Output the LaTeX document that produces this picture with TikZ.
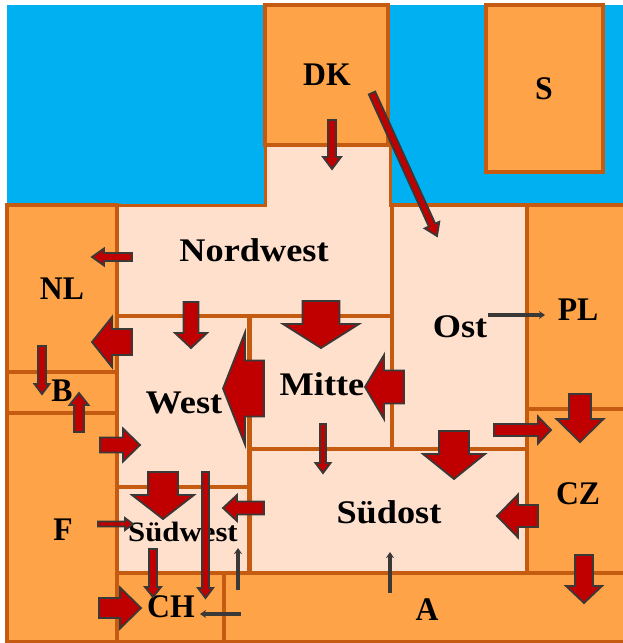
\documentclass[tikz,border=0pt]{standalone}
\usepackage{fontspec}
\setmainfont[FakeStretch=1.1]{Liberation Serif}
\newfontfamily\capfont[FakeStretch=0.96]{Liberation Serif}
\definecolor{mapSea}{RGB}{0,176,240}
\definecolor{mapLand}{RGB}{255,163,72}
\definecolor{mapZone}{RGB}{255,224,204}
\definecolor{mapEdge}{RGB}{197,90,17}
\definecolor{flowRed}{RGB}{192,0,0}
\definecolor{flowDark}{RGB}{59,56,56}
\usetikzlibrary{arrows.meta,calc}

% name, tail, tip, half shaft, half head, head length
\newcommand{\flowarrow}[6]{%
  \coordinate (#1-a) at (#2);
  \coordinate (#1-b) at (#3);
  \coordinate (#1-h) at ($(#1-b)!#6pt!(#1-a)$);
  \draw[flow] ($(#1-a)!#4pt!90:(#1-b)$) -- ($(#1-h)!#4pt!90:(#1-b)$)
    -- ($(#1-h)!#5pt!90:(#1-b)$) -- (#1-b) -- ($(#1-h)!#5pt!-90:(#1-b)$)
    -- ($(#1-h)!#4pt!-90:(#1-b)$) -- ($(#1-a)!#4pt!-90:(#1-b)$) -- cycle;
}
\newcommand{\thinflow}[3]{%
  \coordinate (#1-a) at (#2);
  \coordinate (#1-b) at (#3);
  \draw[-{Stealth[length=6pt,width=8pt]}, line width=3.2pt, flowDark] (#1-a) -- (#1-b);
}

\begin{document}
\begin{tikzpicture}[
  x=1pt, y=-1pt,
  land/.style={draw=mapEdge, line width=3.5pt, fill=mapLand},
  zone/.style={draw=mapEdge, line width=3.5pt, fill=mapZone},
  flow/.style={draw=flowDark, line width=1.8pt, fill=flowRed, line join=miter},
  lab/.style={font=\fontsize{33}{38}\selectfont\bfseries, inner sep=0pt, text=black},
  caplab/.style={lab, font=\capfont\fontsize{33}{38}\selectfont\bfseries}
]
  \useasboundingbox (0,0) rectangle (623,643);
  \fill[mapSea] (7,5) rectangle (623,205);

  % neighbours
  \draw[land] (265,5) rectangle (388,145);
  \draw[land] (486,5) rectangle (603,172);
  \draw[land] (7,205) rectangle (117,372);
  \draw[land] (7,372) rectangle (117,413);
  \draw[land] (7,413) rectangle (117,642);
  \draw[land] (117,573) rectangle (224,642);
  \draw[land] (224,573) rectangle (630,642);
  \draw[land] (527,205) rectangle (630,409);
  \draw[land] (527,409) rectangle (630,573);

  % zones
  \draw[zone, line width=3pt] (117,205) -- (265,205) -- (265,145) -- (390,145)
    -- (390,205) -- (392,205) -- (392,316) -- (117,316) -- cycle;
  \draw[zone] (392,205) rectangle (527,449);
  \draw[zone] (117,316) rectangle (249,487);
  \draw[zone] (250,316) rectangle (392,449);
  \draw[zone] (117,487) rectangle (249,573);
  \draw[zone] (250,449) rectangle (527,573);

  \node[caplab] (dk)  at (327,75)  {DK};
  \node[caplab] (s)   at (544,89)  {S};
  \node[lab] (nw)  at (254,250) {Nordwest};
  \node[caplab] (nl)  at (62,289)  {NL};
  \node[caplab] (b)   at (62,391)  {B};
  \node[lab] (w)   at (184,403) {West};
  \node[lab] (mi)  at (322,384) {Mitte};
  \node[lab] (o)   at (460,327) {Ost};
  \node[caplab] (pl)  at (578,310) {PL};
  \node[caplab] (cz)  at (578,494) {CZ};
  \node[caplab] (f)   at (63,530)  {F};
  \node[lab, font=\fontsize{28}{32}\selectfont\bfseries] (sw) at (183,532) {Südwest};
  \node[lab] (so)  at (389,512) {Südost};
  \node[caplab] (ch)  at (171,607) {CH};
  \node[caplab] (at)  at (427,610) {A};

  \flowarrow{dkNw}{332,120}{332,169}{4}{9}{12}
  \flowarrow{dkO}{372,93}{437,236}{3.5}{8}{12}
  \flowarrow{nwNl}{132,257}{92,257}{4}{8.5}{12}
  \flowarrow{wNl}{132,342}{92,342}{13}{25}{20}
  \flowarrow{nwW}{191,302}{191,348}{7.5}{16}{15}
  \flowarrow{miW}{264,388.5}{223,388.5}{28}{56}{22}
  \flowarrow{nlB}{42,346}{42,394}{4}{7.5}{10}
  \flowarrow{fB}{79,432}{79,393}{5}{9.5}{12}
  \flowarrow{fW}{100,445}{140,445}{7.5}{16.5}{17}
  \flowarrow{wSw}{163,472}{163,519}{15}{31}{24}
  \flowarrow{wCh}{205.5,472}{205.5,598}{3.5}{7.5}{10}
  \flowarrow{soSw}{264,508}{223,508}{6.5}{13}{14}
  \flowarrow{fSw}{98,524}{133,524}{2.5}{6}{8}
  \flowarrow{swCh}{153,549}{153,597}{4}{8}{10}
  \flowarrow{fCh}{99,608}{141,608}{10}{20.5}{21}
  \flowarrow{nwMi}{321,301}{321,348}{18.5}{38}{24}
  \flowarrow{oMi}{404,387}{365,387}{16.5}{32}{19}
  \flowarrow{miSo}{323,424}{323,473}{3}{7.5}{10}
  \flowarrow{oSo}{454,431}{454,479}{15}{31}{25}
  \flowarrow{oCz}{494,430}{551,430}{6}{13.5}{13}
  \flowarrow{plCz}{580,394}{580,442}{11}{23.5}{23}
  \flowarrow{czSo}{538,516}{497,516}{11}{21.5}{21}
  \flowarrow{czA}{584,555}{584,603}{9}{18}{17}

  \thinflow{aCh}{241,614}{200,614}
  \thinflow{aSw}{238,590}{238,548}
  \thinflow{aSo}{390,593}{390,552}
  \thinflow{oPl}{488,315}{545,315}
\end{tikzpicture}
\end{document}
